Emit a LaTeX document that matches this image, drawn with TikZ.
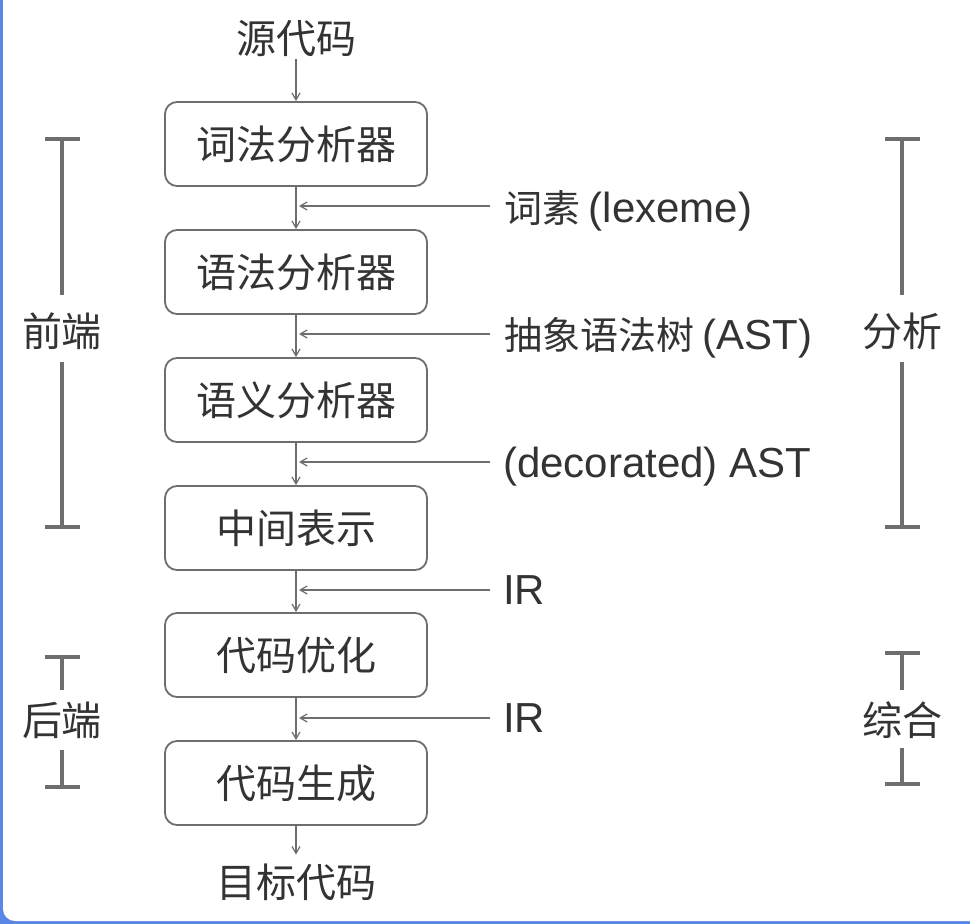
\documentclass[tikz,border=0pt]{standalone}
\usepackage{fontspec}
\setmainfont{Noto Sans CJK SC}
\newfontfamily\latfont{Liberation Sans}
\newcommand{\latin}[1]{{\latfont\fontsize{42}{48}\selectfont #1}}
\usetikzlibrary{arrows.meta}
\definecolor{linegray}{HTML}{6E6E6E}
\definecolor{txtgray}{HTML}{333333}
\definecolor{framebl}{HTML}{5A86E6}
\begin{document}
\begin{tikzpicture}[x=1pt,y=-1pt,
  txt/.style={inner sep=0pt,text height=30.4pt,text depth=0pt,text=txtgray,font=\fontsize{40}{48}\selectfont},
  lab/.style={inner sep=0pt,inner xsep=14pt,text height=28.5pt,text depth=0pt,text=txtgray,font=\fontsize{38}{45}\selectfont,anchor=west},
  stagebox/.style={txt,draw=linegray,line width=1.8pt,rounded corners=12pt,minimum width=262pt,minimum height=84pt},
  arr/.style={draw=linegray,line width=1.4pt,-{Straight Barb[length=7pt,width=8pt,line width=1.2pt]}},
  brk/.style={draw=linegray,line width=4pt},
]
\useasboundingbox (0,0) rectangle (970,924);
\fill[framebl] (0,0) rectangle (970,924);
\fill[white,rounded corners=12pt] (3,-20) rectangle (990,921);

% main chain
\node[txt] (src) at (296,38) {源代码};
\node[stagebox] (b1) at (296,144) {词法分析器};
\node[stagebox] (b2) at (296,272) {语法分析器};
\node[stagebox] (b3) at (296,400) {语义分析器};
\node[stagebox] (b4) at (296,528) {中间表示};
\node[stagebox] (b5) at (296,655) {代码优化};
\node[stagebox] (b6) at (296,783) {代码生成};
\node[txt] (tgt) at (296,882) {目标代码};

\draw[arr] ([yshift=-6pt]src.south) -- (b1.north);
\draw[arr] (b1) -- (b2);
\draw[arr] (b2) -- (b3);
\draw[arr] (b3) -- (b4);
\draw[arr] (b4) -- (b5);
\draw[arr] (b5) -- (b6);
\draw[arr] (b6.south) -- ([yshift=12pt]tgt.north);

% side inputs
\node[lab] (l1) at (490,208) {词素 \latin{(lexeme)}};
\node[lab] (l2) at (490,335) {抽象语法树 \latin{(AST)}};
\node[lab] (l3) at (489,463) {\latin{(decorated) AST}};
\node[lab] (l4) at (489,590) {\latin{IR}};
\node[lab] (l5) at (489,718) {\latin{IR}};
\coordinate (j1) at (299,206);
\coordinate (j2) at (299,334);
\coordinate (j3) at (299,462);
\coordinate (j4) at (299,590);
\coordinate (j5) at (299,718);
\draw[arr] (490,206) -- (j1);
\draw[arr] (490,334) -- (j2);
\draw[arr] (490,462) -- (j3);
\draw[arr] (490,590) -- (j4);
\draw[arr] (490,718) -- (j5);

% brackets left
\node[txt] (fe) at (62,331) {前端};
\draw[brk] (45,139) -- (80,139) (62,139) -- (62,295);
\draw[brk] (62,362) -- (62,527) (45,527) -- (80,527);
\node[txt] (be) at (62,720) {后端};
\draw[brk] (45,657) -- (80,657) (62,657) -- (62,690);
\draw[brk] (62,750) -- (62,787) (45,787) -- (80,787);

% brackets right
\node[txt] (an) at (902,331) {分析};
\draw[brk] (885,139) -- (920,139) (902,139) -- (902,295);
\draw[brk] (902,362) -- (902,527) (885,527) -- (920,527);
\node[txt] (sy) at (902,720) {综合};
\draw[brk] (885,653) -- (920,653) (902,653) -- (902,690);
\draw[brk] (902,748) -- (902,784) (885,784) -- (920,784);
\end{tikzpicture}
\end{document}
